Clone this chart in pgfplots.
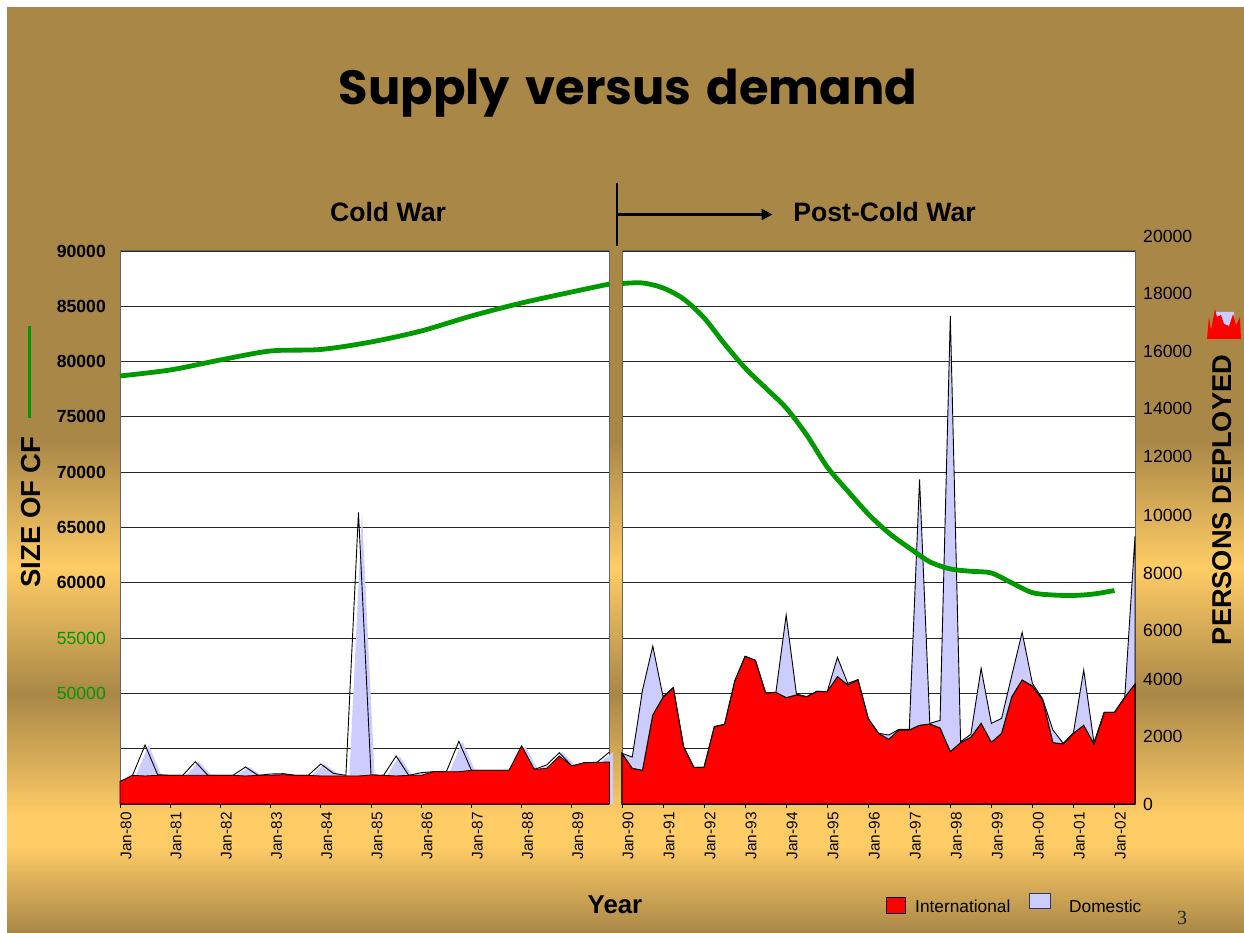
\documentclass[border=0pt]{standalone}
\usepackage{fontspec}
\usepackage{pgfplots}
\usepackage{pgfplotstable}
\pgfplotsset{compat=1.18}
\usetikzlibrary{arrows.meta}
\setmainfont{Liberation Sans}
\newfontfamily\titlefont[WordSpace=1.5]{Poppins}
\newfontfamily\pagefont{Liberation Serif}
\definecolor{slidebrown}{RGB}{168,135,71}
\definecolor{slidegold}{RGB}{255,204,102}
\definecolor{cfgreen}{RGB}{0,153,0}
\definecolor{lav}{RGB}{204,204,255}
\newcommand{\fs}[1]{\fontsize{#1}{#1}\selectfont}

\pgfplotstableread{
x intl total
1980.00 786 786
1980.25 1009 1009
1980.50 986 2077
1980.75 1009 1032
1981.00 1009 1009
1981.25 1009 1009
1981.50 1009 1490
1981.75 1009 1009
1982.00 1009 1009
1982.25 1009 1009
1982.50 986 1302
1982.75 1009 1009
1983.00 1009 1056
1983.25 1032 1068
1983.50 1009 1009
1983.75 1009 1009
1984.00 986 1408
1984.25 986 1079
1984.50 986 1009
1984.75 986 10267
1985.00 1021 1021
1985.25 1009 1009
1985.50 986 1690
1985.75 1009 1009
1986.00 1009 1103
1986.25 1138 1138
1986.50 1138 1138
1986.75 1138 2206
1987.00 1185 1185
1987.25 1185 1185
1987.50 1185 1185
1987.75 1185 1185
1988.00 2042 2042
1988.25 1220 1220
1988.50 1255 1373
1988.75 1690 1807
1989.00 1338 1338
1989.25 1455 1455
1989.50 1467 1467
1989.75 1478 1830
}\coldwar

\pgfplotstableread{
x intl total
1990.00 1783 1783
1990.25 1255 1654
1990.50 1185 4013
1990.75 3133 5561
1991.00 3755 3778
1991.25 4095 4095
1991.50 2018 2018
1991.75 1291 1291
1992.00 1291 1291
1992.25 2722 2722
1992.50 2804 2804
1992.75 4341 4341
1993.00 5198 5198
1993.25 5057 5057
1993.50 3907 3907
1993.75 3931 3931
1994.00 3743 6653
1994.25 3837 3872
1994.50 3778 3778
1994.75 3966 3966
1995.00 3954 3954
1995.25 4482 5163
1995.50 4189 4247
1995.75 4376 4376
1996.00 3004 3004
1996.25 2490 2490
1996.50 2276 2429
1996.75 2605 2628
1997.00 2605 2628
1997.25 2769 11428
1997.50 2816 2839
1997.75 2675 2945
1998.00 1842 17189
1998.25 2159 2194
1998.50 2347 2452
1998.75 2839 4775
1999.00 2171 2839
1999.25 2487 3015
1999.50 3778 4541
1999.75 4365 6043
2000.00 4154 4247
2000.25 3661 3696
2000.50 2159 2605
2000.75 2112 2135
2001.00 2487 2511
2001.25 2769 4717
2001.50 2112 2159
2001.75 3227 3227
2002.00 3227 3227
2002.25 3755 3755
2002.50 4224 9433
}\postcold

\pgfplotstableread{
x cf
1980 78700
1981 79243
1982 80147
1983 80960
1984 81097
1985 81774
1986 82769
1987 84125
1988 85300
1989 86295
1989.75 87018
}\cfold

\pgfplotstableread{
x cf
1990.0 87060
1990.5 87110
1991.0 86657
1991.5 85662
1992.0 83950
1992.5 81593
1993.0 79423
1993.5 77615
1994.0 75806
1994.5 73365
1995.0 70471
1995.5 68301
1996.0 66222
1996.5 64504
1997.0 63148
1997.5 61900
1998.0 61250
1998.5 61041
1999.0 60887
1999.5 59983
2000.0 59107
2000.5 58898
2001.0 58853
2001.5 58988
2002.0 59304
}\cfnew

\pgfplotsset{
  panel/.style={
    scale only axis, anchor=south west, height=553pt,
    ymin=40000, ymax=90000,
    ytick={40000,45000,...,90000},
    ymajorgrids, grid style={black!85, line width=0.9pt},
    axis background/.style={fill=white},
    axis line style={draw=black!60, line width=1pt},
    scaled ticks=false,
    x tick style={black, line width=0.8pt},
    y tick style={draw=none},
    major tick length=4pt,
    tick align=outside,
    xtick pos=bottom,
    ytick pos=left,
    x tick label style={xshift=6pt, yshift=-2pt, rotate=90, anchor=east, font=\fs{15.4}, inner sep=2pt},
    y tick label style={font=\bfseries\fs{17.6}, inner sep=0pt, xshift=-10pt},
  },
  persons/.style={
    scale only axis, anchor=south west, height=568pt,
    ymin=0, ymax=20000, clip=false, scaled ticks=false,
  },
  over/.style={
    scale only axis, anchor=south west, height=553pt,
    ymin=40000, ymax=90000, hide axis, clip=false,
  },
}

\begin{document}
\begin{tikzpicture}[x=1pt,y=1pt]
\useasboundingbox (0,0) rectangle (1244,933);
\fill[white] (0,0) rectangle (1244,933);
% slide background (y measured from the bottom of the image)
\fill[slidebrown] (7,493) rectangle (1244,926);
\fill[top color=slidebrown,bottom color=slidegold,draw=none] (7,365) rectangle (1244,493.3);
\fill[top color=slidegold,bottom color=slidebrown,draw=none] (7,239) rectangle (1244,365.3);
\fill[top color=slidebrown,bottom color=slidegold,draw=none] (7,117) rectangle (1244,239.3);
\fill[slidegold] (7,87) rectangle (1244,117.3);
\fill[top color=slidegold,bottom color=slidebrown,draw=none] (7,0) rectangle (1244,87.3);

% ---- left panel ----
\begin{axis}[panel, at={(120pt,129pt)}, width=489.5pt,
  xmin=1980, xmax=1989.75,
  xtick={1980,...,1989},
  xticklabels={Jan-80,Jan-81,Jan-82,Jan-83,Jan-84,Jan-85,Jan-86,Jan-87,Jan-88,Jan-89},
  yticklabels={,,\textcolor{cfgreen}{\mdseries 50000},\textcolor{cfgreen}{\mdseries 55000},60000,65000,70000,75000,80000,85000,90000},
]
\end{axis}
\begin{axis}[persons, hide axis, at={(120pt,129pt)}, width=489.5pt,
  xmin=1980, xmax=1989.75]
\addplot[fill=lav, draw=none, xshift=3.5pt] table[x=x,y=total] {\coldwar} \closedcycle;
\addplot[draw=black, line width=0.9pt] table[x=x,y=total] {\coldwar};
\addplot[fill=red, draw=black, line width=0.8pt] table[x=x,y=intl] {\coldwar} \closedcycle;
\end{axis}
\begin{axis}[over, at={(120pt,129pt)}, width=489.5pt, xmin=1980, xmax=1989.75]
\addplot[cfgreen, line width=4.8pt, smooth] table[x=x,y=cf] {\cfold};
\end{axis}

% ---- right panel ----
\begin{axis}[panel, at={(622pt,129pt)}, width=513pt,
  xmin=1990, xmax=2002.5,
  xtick={1990,...,2002},
  xticklabels={Jan-90,Jan-91,Jan-92,Jan-93,Jan-94,Jan-95,Jan-96,Jan-97,Jan-98,Jan-99,Jan-00,Jan-01,Jan-02},
  yticklabels={},
]
\end{axis}
\begin{axis}[persons, at={(622pt,129pt)}, width=513pt,
  xmin=1990, xmax=2002.5,
  axis x line=none, axis y line=right, axis line style={draw=none},
  y tick style={draw=none}, major tick length=0pt,
  ytick={0,2394,4400,6125,8131,10173,12250,13939,15946,17987,20000},
  yticklabels={0,2000,4000,6000,8000,10000,12000,14000,16000,18000,20000},
  y tick label style={font=\fs{17.6}, inner sep=0pt, xshift=8pt, anchor=west},
]
\addplot[fill=lav, draw=black, line width=0.9pt] table[x=x,y=total] {\postcold} \closedcycle;
\addplot[fill=red, draw=black, line width=1.1pt] table[x=x,y=intl] {\postcold} \closedcycle;
\end{axis}
\begin{axis}[over, at={(622pt,129pt)}, width=513pt, xmin=1990, xmax=2002.5]
\addplot[cfgreen, line width=4.8pt, smooth] table[x=x,y=cf] {\cfnew};
\end{axis}

% ---- small key for persons deployed ----
\begin{axis}[scale only axis, anchor=south west, at={(1207pt,594pt)}, width=34pt, height=30pt,
  xmin=0, xmax=34, ymin=0, ymax=30, hide axis, clip=false]
\addplot[fill=lav, draw=none] coordinates {(9,0)(9,27)(27,27)(27,0)} \closedcycle;
\addplot[fill=red, draw=none] coordinates {(0,0)(2,22)(4,9)(8,30)(10,22)(14,24)(17,15)(22,13)(26,25)(29,14)(33,22)(34,0)} \closedcycle;
\end{axis}

% ---- text ----
\node[font=\titlefont\bfseries\fs{48}] at (628,840) {Supply versus demand};
\node[font=\bfseries\fs{26.6}] at (388,721) {Cold War};
\node[font=\bfseries\fs{26.6}] at (884.5,721) {Post-Cold War};
\node[font=\bfseries\fs{25.8}] at (615,28) {Year};
\node[font=\bfseries\fs{27.5}, rotate=90] at (31,421) {SIZE OF CF};
\node[font=\bfseries\fs{27.2}, rotate=90] at (1222,433) {PERSONS DEPLOYED};
\draw[cfgreen, line width=3.5pt] (29.5,515) -- (29.5,607);
\draw[black, line width=1.2pt] (617,750) -- (617,687);
\draw[black, line width=2.5pt, -{Triangle[length=11pt,width=11pt]}] (615.5,718.5) -- (772.5,718.5);
\draw[black, line width=1pt, fill=red] (886,19) rectangle (905,35);
\draw[black!60!blue!60!gray, line width=1pt, fill=lav] (1029,24) rectangle (1050,39);
\node[font=\fs{17.3}, anchor=west, inner sep=0pt] at (915,27) {International};
\node[font=\fs{17.3}, anchor=west, inner sep=0pt] at (1069,27) {Domestic};
\node[font=\pagefont\fs{20}, black!85] at (1182,15) {3};
\end{tikzpicture}
\end{document}
